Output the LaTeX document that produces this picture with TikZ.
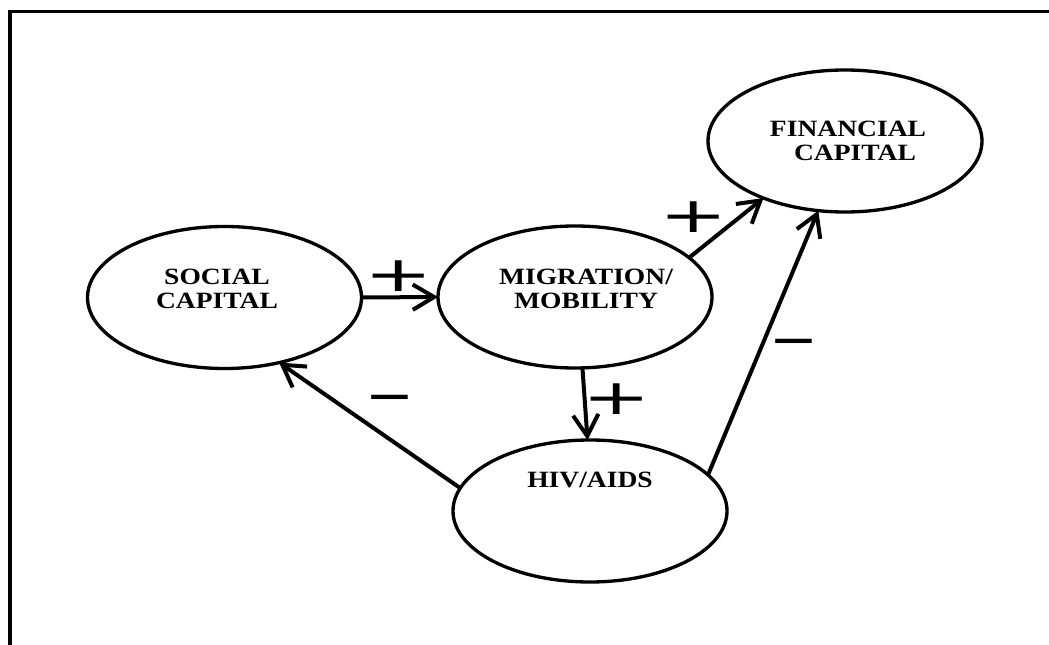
\documentclass[tikz,border=0pt]{standalone}
\usepackage{fontspec}
\newfontfamily\lblfont[FakeStretch=1.18]{Liberation Serif}
\newfontfamily\signfont{DejaVu Sans}
\usetikzlibrary{shapes.geometric,arrows.meta}
\begin{document}
\begin{tikzpicture}[x=0.75pt,y=-0.75pt,
  stage/.style={ellipse,draw,line width=2.5pt,minimum width=205.5pt,minimum height=106.5pt,inner sep=0pt,outer sep=0pt},
  caption/.style={font=\lblfont\bfseries\fontsize{17.5}{18}\selectfont,align=center,inner sep=0pt},
  link/.style={line width=3pt,-{Straight Barb[length=16pt,width=19pt]}},
  sign/.style={font=\signfont\fontsize{35}{35}\selectfont,inner sep=0pt}]
\useasboundingbox (0,0) rectangle (1049,645);
% open frame: left and top edges only
\draw[line width=2.6pt] (10,645) -- (10,11.5) -- (1049,11.5);

% the four capitals / factors
\node[stage] (soc) at (224.5,297.5) {};
\node[stage] (mig) at (575,297) {};
\node[stage] (fin) at (845,141) {};
\node[stage] (hiv) at (590,511) {};

\node[caption] (socT) at (217,289) {SOCIAL\\CAPITAL};
\node[caption] (migT) at (586,289) {MIGRATION/\\MOBILITY};
\node[caption] (finT) at (848,141) {FINANCIAL\\\hspace*{0.6em}CAPITAL};
\node[caption] (hivT) at (590,480) {HIV/AIDS};

% causal links
\draw[link] (soc.east) -- (mig.west);
\draw[link] (mig.-84) -- (hiv.92);
\draw[link] (mig.19) -- (fin.215);
\draw[link] (hiv.170) -- (soc.-50);
\draw[link] (hiv.17) -- (fin.249);

% signs of the effects
\node[sign] (p1) at (399,276) {\scalebox{1.75}[1.05]{+}};
\node[sign] (p2) at (617,399) {\scalebox{1.75}[1.05]{+}};
\node[sign] (p3) at (694,217) {\scalebox{1.75}[1.05]{+}};
\node[sign] (m1) at (390,404) {\scalebox{1.25}[1.1]{−}};
\node[sign] (m2) at (794,348) {\scalebox{1.25}[1.1]{−}};
\end{tikzpicture}
\end{document}
